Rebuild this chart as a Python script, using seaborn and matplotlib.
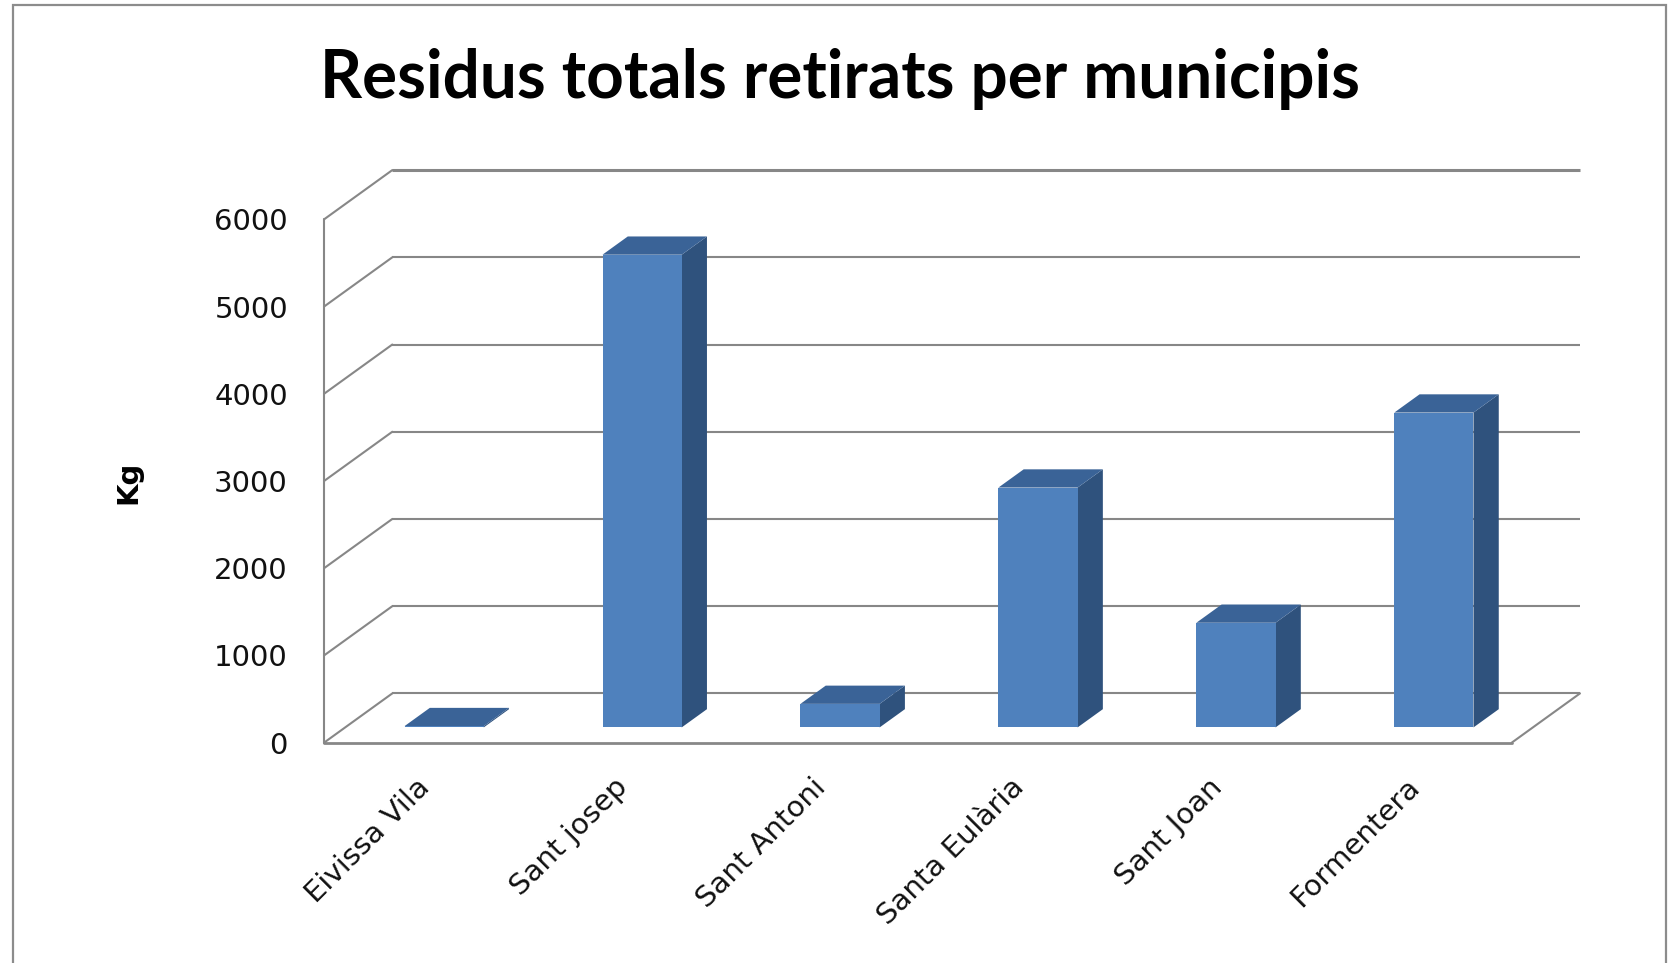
import numpy as np
import pandas as pd
import matplotlib
matplotlib.use("Agg")
import matplotlib.pyplot as plt
import matplotlib.transforms as mtransforms
from matplotlib.patches import Polygon, Rectangle
import seaborn as sns

# ---- data ----
municipis = ["Eivissa Vila", "Sant josep", "Sant Antoni", "Santa Eulària", "Sant Joan", "Formentera"]
kg = [15, 5420, 270, 2750, 1200, 3610]
y_ticks = [0, 1000, 2000, 3000, 4000, 5000, 6000]
y_labels = ["0", "1000", "2000", "3000", "4000", "5000", "6000"]
title = "Residus totals retirats per municipis"
ylabel = "Kg"

# ---- style ----
sns.set_theme(style="white")
plt.rcParams['font.family'] = ['DejaVu Sans']

FRONT = "#4F81BD"
TOP = "#3A6397"
SIDE = "#2F527D"
GRID = "#878787"

W, H = 1668, 963
fig = plt.figure(figsize=(W / 100, H / 100), dpi=100)
fig.patch.set_facecolor("white")

x_left, x_right = 324.0, 1511.7
y_base, y_top = 742.7, 219.4
ax = fig.add_axes([x_left / W, (H - y_base) / H, (x_right - x_left) / W, (y_base - y_top) / H])
ax.set_facecolor("none")

df = pd.DataFrame({"municipi": municipis, "kg": kg})
sns.barplot(data=df, x="municipi", y="kg", color=FRONT, saturation=1, width=0.4,
            linewidth=0, errorbar=None, ax=ax, zorder=5)

ax.set_xlim(-0.5, len(municipis) - 0.5)
ax.set_ylim(0, 6000)

# depth offsets (in data units) for the oblique 3-D look
px_per_x = (x_right - x_left) / len(municipis)
px_per_y = (y_base - y_top) / 6000
DX = 68.3 / px_per_x
DY = 49.3 / px_per_y
f0, f1 = 0.31, 0.68
d = f1 - f0

xl, xr = -0.5, len(municipis) - 0.5
lw = 1.5
# back wall gridlines and left wall diagonals
for t in y_ticks:
    ax.plot([xl + DX, xr + DX], [t + DY, t + DY], color=GRID, lw=(2.2 if t == y_ticks[-1] else lw),
            clip_on=False, zorder=1, solid_capstyle="butt")
    ax.plot([xl, xl + DX], [t, t + DY], color=GRID, lw=lw, clip_on=False, zorder=1)
# front left edge, floor front edge and right floor diagonal
ax.plot([xl, xl], [0, y_ticks[-1]], color=GRID, lw=lw, clip_on=False, zorder=1)
ax.plot([xl, xr], [0, 0], color=GRID, lw=2.0, clip_on=False, zorder=1)
ax.plot([xr, xr + DX], [0, DY], color=GRID, lw=lw, clip_on=False, zorder=1)

# 3-D bars built from the seaborn patches
for p in list(ax.patches):
    x0 = p.get_x() + f0 * DX
    w = p.get_width()
    h = p.get_height()
    y0 = f0 * DY
    p.set_x(x0)
    p.set_y(y0)
    p.set_clip_on(False)
    top = [(x0, y0 + h), (x0 + w, y0 + h), (x0 + w + d * DX, y0 + h + d * DY), (x0 + d * DX, y0 + h + d * DY)]
    side = [(x0 + w, y0), (x0 + w + d * DX, y0 + d * DY), (x0 + w + d * DX, y0 + h + d * DY), (x0 + w, y0 + h)]
    ax.add_patch(Polygon(side, closed=True, facecolor=SIDE, edgecolor="none", zorder=4, clip_on=False))
    ax.add_patch(Polygon(top, closed=True, facecolor=TOP, edgecolor="none", zorder=4, clip_on=False))

for s in ax.spines.values():
    s.set_visible(False)
ax.grid(False)

ax.set_yticks(y_ticks)
ax.set_yticklabels(y_labels, fontsize=21, color="#111111")
ax.tick_params(axis="y", length=0, pad=26)
ax.set_ylabel("")
ax.set_xlabel("")
ax.set_xticks(range(len(municipis)))
ax.set_xticklabels(municipis, rotation=45, ha="right", va="center", rotation_mode="anchor",
                   fontsize=21, color="#111111")
ax.tick_params(axis="x", length=0, pad=29)
shift = mtransforms.ScaledTranslation(2 / 72, 0, fig.dpi_scale_trans)
for lab in ax.get_xticklabels():
    lab.set_transform(lab.get_transform() + shift)

fig.text(128 / W, 1 - 482 / H, ylabel, rotation=90, ha="center", va="center",
         fontsize=21, fontweight="bold", color="black")

ttl = fig.text(840 / W, 1 - 98 / H, title, ha="center", va="baseline",
               fontsize=45, fontweight="bold", color="black", family=["Lato", "DejaVu Sans"])
fig.canvas.draw()
bb = ttl.get_window_extent()
ttl.set_fontsize(45 * 1041 / bb.width)

fig.patches.append(Rectangle((13 / W, -0.02), (1666 - 13) / W, 1 - 5 / H + 0.02,
                             transform=fig.transFigure, fill=False, edgecolor="#8c8c8c",
                             lw=1.6, zorder=0))

fig.savefig("out.png", dpi=100, facecolor="white")
